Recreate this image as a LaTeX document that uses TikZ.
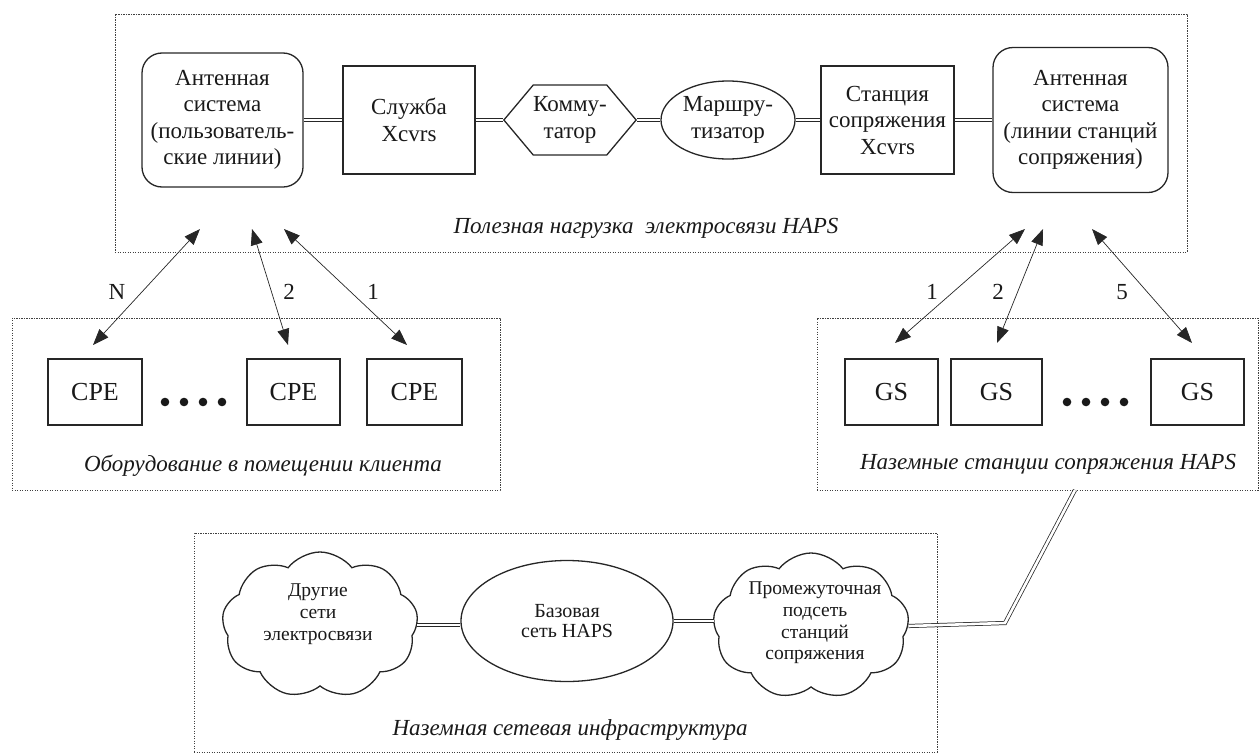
\documentclass[tikz,border=0pt]{standalone}
\usepackage{fontspec}
\setmainfont{Liberation Serif}
\usetikzlibrary{arrows.meta,shapes.geometric,shapes.symbols}
\begin{document}
\begin{tikzpicture}[x=1pt,y=-1pt,
  grp/.style={draw=black!75, line width=0.7pt, dash pattern=on 1.4pt off 1.1pt, inner sep=0pt},
  box/.style={draw=black!85, line width=1.3pt, align=center, inner sep=0pt, text=black!90,
    font=\fontsize{23}{26.5}\selectfont},
  rbox/.style={box, rounded corners=20pt},
  smallbox/.style={box, font=\fontsize{26}{28}\selectfont, minimum height=66pt},
  cloudbox/.style={draw=black!85, line width=1.3pt, cloud, cloud puffs=9, cloud puff arc=105, aspect=1.35, inner sep=0pt},
  cloudtxt/.style={align=center, text=black!90, font=\fontsize{19.5}{21.7}\selectfont},
  dbl/.style={draw=black!85, double, double distance=2.6pt, line width=0.75pt, line join=miter},
  biarr/.style={draw=black!85, line width=0.7pt, {Triangle[length=16pt,width=12pt]}-{Triangle[length=16pt,width=12pt]}},
  glabel/.style={text=black!90, font=\fontsize{23}{26}\selectfont\itshape},
  num/.style={text=black!90, font=\fontsize{23}{26}\selectfont},
  dot/.style={fill=black!90}
]
\useasboundingbox (0,0) rectangle (1260,755);

% group boxes
\node[grp, minimum width=1072pt, minimum height=238pt] (payload) at (651,133) {};
\node[grp, minimum width=488pt, minimum height=172pt] (cpegrp) at (256,404) {};
\node[grp, minimum width=441pt, minimum height=172pt] (gsgrp) at (1037.5,404) {};
\node[grp, minimum width=743pt, minimum height=219pt] (infra) at (565.5,642.5) {};

\node[glabel] (payloadlbl) at (646,228) {Полезная нагрузка \ электросвязи HAPS};
\node[glabel] (cpelbl) at (263,466) {Оборудование в помещении клиента};
\node[glabel] (gslbl) at (1048,464) {Наземные станции сопряжения HAPS};
\node[glabel] (infralbl) at (570,730) {Наземная сетевая инфраструктура};

% top row
\node[rbox, minimum width=161pt, minimum height=134pt] (antL) at (222.5,120) {Антенная\\система\\(пользователь-\\ские линии)};
\node[box, minimum width=132pt, minimum height=108pt] (svc) at (409,120) {Служба\\Xcvrs};
\node[box, signal, signal to=east and west, signal pointer angle=100, minimum width=132pt, minimum height=70pt] (sw) at (570,120) {Комму-\\татор};
\node[box, ellipse, minimum width=134pt, minimum height=78pt] (rt) at (728,120) {Маршру-\\тизатор};
\node[box, minimum width=133pt, minimum height=108pt] (gw) at (887.5,120) {Станция\\сопряжения\\Xcvrs};
\node[rbox, minimum width=175pt, minimum height=145pt] (antR) at (1080.5,120) {Антенная\\система\\(линии станций\\сопряжения)};

\draw[dbl] (antL.east) -- (svc.west);
\draw[dbl] (svc.east) -- (sw.west);
\draw[dbl] (sw.east) -- (rt.west);
\draw[dbl] (rt.east) -- (gw.west);
\draw[dbl] (gw.east) -- (antR.west);

% CPE
\node[smallbox, minimum width=94pt] (cpe1) at (95,392) {CPE};
\node[smallbox, minimum width=93pt] (cpe2) at (293.5,392) {CPE};
\node[smallbox, minimum width=95pt] (cpe3) at (414.5,392) {CPE};
\foreach \x in {165,184,203,222} \fill[dot] (\x,402) circle (4.3pt);

% GS
\node[smallbox, minimum width=93pt] (gs1) at (891.5,392) {GS};
\node[smallbox, minimum width=91pt] (gs2) at (996.5,392) {GS};
\node[smallbox, minimum width=93pt] (gs3) at (1197.5,392) {GS};
\foreach \x in {1067,1086,1105,1124} \fill[dot] (\x,402) circle (4.3pt);

% arrow end points
\coordinate (aNt) at (200,229);  \coordinate (aNb) at (93,345);
\coordinate (a2t) at (252,229);  \coordinate (a2b) at (288,345);
\coordinate (a1t) at (284,229);  \coordinate (a1b) at (407,345);
\coordinate (b1t) at (1025,229); \coordinate (b1b) at (895,343);
\coordinate (b2t) at (1043,229); \coordinate (b2b) at (997,343);
\coordinate (b5t) at (1092,229); \coordinate (b5b) at (1192,343);

\draw[biarr] (aNt) -- (aNb);
\draw[biarr] (a2t) -- (a2b);
\draw[biarr] (a1t) -- (a1b);
\draw[biarr] (b1t) -- (b1b);
\draw[biarr] (b2t) -- (b2b);
\draw[biarr] (b5t) -- (b5b);

\node[num] (lN) at (117,292) {N};
\node[num] (l2) at (289,292) {2};
\node[num] (l1) at (373,292) {1};
\node[num] (r1) at (932,292) {1};
\node[num] (r2) at (998,292) {2};
\node[num] (r5) at (1122,292) {5};

% infrastructure
\node[cloudbox, minimum width=196pt, minimum height=146pt] (cl1) at (320,625) {};
\node[cloudtxt] (cl1t) at (318,614) {Другие\\сети\\электросвязи};
\node[box, ellipse, minimum width=212pt, minimum height=121pt, font=\fontsize{20}{20}\selectfont] (base) at (567,621) {Базовая\\сеть HAPS};
\node[cloudbox, minimum width=196pt, minimum height=146pt] (cl2) at (811,626) {};
\node[cloudtxt] (cl2t) at (815,623) {Промежуточная\\подсеть\\станций\\сопряжения};

\coordinate (bend) at (1005,623);
\coordinate (gsin) at (1075,490);
\draw[dbl] (cl1.east) -- (cl1.east -| base.west);
\draw[dbl] (base.east) -- (base.east -| cl2.west);
\draw[dbl] (cl2.east) -- (bend) -- (gsin);
\end{tikzpicture}
\end{document}
